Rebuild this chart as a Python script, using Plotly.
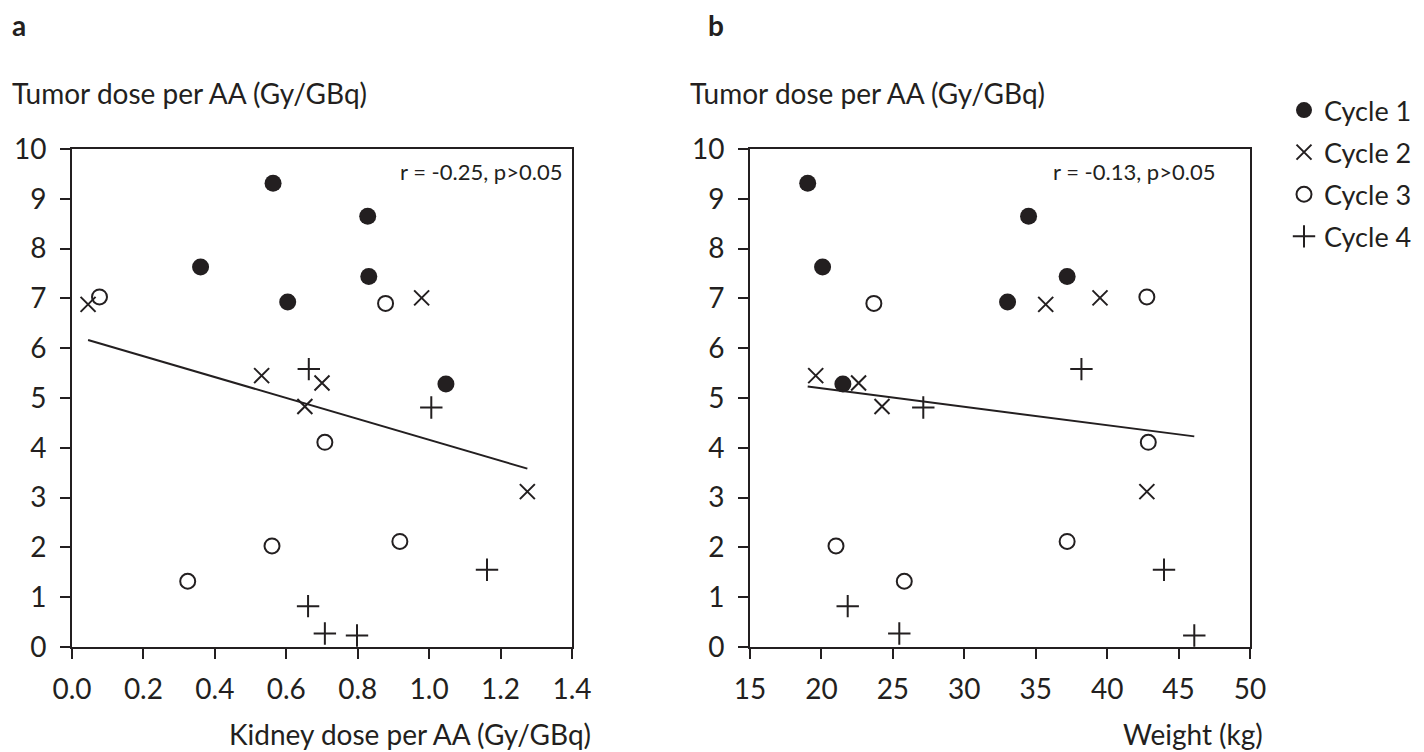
import plotly.graph_objects as go

# ---- data ----
# Cycle 1
tumor_c1 = [9.31, 8.65, 7.63, 7.44, 6.93, 5.28]
kidney_c1 = [0.563, 0.828, 0.360, 0.831, 0.604, 1.047]
weight_c1 = [19.04, 34.5, 20.08, 37.2, 33.03, 21.5]
# Cycle 2
tumor_c2 = [6.88, 7.01, 5.45, 5.30, 4.83, 3.12]
kidney_c2 = [0.045, 0.979, 0.531, 0.700, 0.652, 1.275]
weight_c2 = [35.7, 39.5, 19.6, 22.6, 24.24, 42.78]
# Cycle 3
tumor_c3 = [7.03, 6.90, 4.11, 2.03, 2.12, 1.32]
kidney_c3 = [0.077, 0.878, 0.708, 0.560, 0.918, 0.324]
weight_c3 = [42.78, 23.67, 42.88, 21.02, 37.2, 25.8]
# Cycle 4
tumor_c4 = [5.58, 4.81, 1.55, 0.82, 0.27, 0.23]
kidney_c4 = [0.663, 1.006, 1.162, 0.661, 0.708, 0.798]
weight_c4 = [38.2, 27.13, 43.98, 21.84, 25.45, 46.1]

cycle_names = ["Cycle 1", "Cycle 2", "Cycle 3", "Cycle 4"]

# regression lines (intercept, slope)
fit_a = (6.26, -2.10)
fit_b = (5.935, -0.037)
stat_a = "r = -0.25, p>0.05"
stat_b = "r = -0.13, p>0.05"

x_ticks_a = [0.0, 0.2, 0.4, 0.6, 0.8, 1.0, 1.2, 1.4]
x_ticks_b = [15, 20, 25, 30, 35, 40, 45, 50]
y_ticks = list(range(0, 11))

# ---- style ----
FONT = "Lato"
INK = "#231f20"
W, H = 1424, 752
FS = 28

symbols = [
    dict(symbol="circle", size=17, color=INK, line=dict(width=0)),
    dict(symbol="x-thin-open", size=15, color=INK, line=dict(width=2, color=INK)),
    dict(symbol="circle-open", size=15, color=INK, line=dict(width=2, color=INK)),
    dict(symbol="cross-thin-open", size=16, color=INK, line=dict(width=2, color=INK)),
]

fig = go.Figure()

xs_a = [kidney_c1, kidney_c2, kidney_c3, kidney_c4]
xs_b = [weight_c1, weight_c2, weight_c3, weight_c4]
ys = [tumor_c1, tumor_c2, tumor_c3, tumor_c4]

for i, name in enumerate(cycle_names):
    fig.add_trace(go.Scatter(x=xs_a[i], y=ys[i], mode="markers", name=name,
                             marker=symbols[i], legendgroup=name, showlegend=True,
                             xaxis="x", yaxis="y"))
    fig.add_trace(go.Scatter(x=xs_b[i], y=ys[i], mode="markers", name=name,
                             marker=symbols[i], legendgroup=name, showlegend=False,
                             xaxis="x2", yaxis="y2"))

all_a = kidney_c1 + kidney_c2 + kidney_c3 + kidney_c4
all_b = weight_c1 + weight_c2 + weight_c3 + weight_c4
xa = [min(all_a), max(all_a)]
xb = [min(all_b), max(all_b)]
fig.add_trace(go.Scatter(x=xa, y=[fit_a[0] + fit_a[1] * v for v in xa], mode="lines",
                         line=dict(color=INK, width=2), showlegend=False,
                         xaxis="x", yaxis="y"))
fig.add_trace(go.Scatter(x=xb, y=[fit_b[0] + fit_b[1] * v for v in xb], mode="lines",
                         line=dict(color=INK, width=2), showlegend=False,
                         xaxis="x2", yaxis="y2"))

def px_x(p):
    return p / W

def px_y(p):
    return 1 - p / H

dom_a = [px_x(64), px_x(564)]
dom_b = [px_x(742), px_x(1242)]
dom_y = [px_y(639), px_y(141)]

axis_common = dict(showline=True, linecolor=INK, linewidth=2, mirror=True,
                   ticks="outside", ticklen=10, tickwidth=2, tickcolor=INK,
                   showgrid=False, zeroline=False, automargin=False,
                   tickfont=dict(family=FONT, size=FS, color=INK))

fig.update_layout(
    template="none",
    width=W, height=H,
    margin=dict(l=0, r=0, t=0, b=0, pad=0),
    paper_bgcolor="white", plot_bgcolor="white",
    font=dict(family=FONT, color=INK),
    xaxis=dict(domain=dom_a, range=[0, 1.4], tickvals=x_ticks_a,
               ticktext=[f"{v:.1f}" for v in x_ticks_a], anchor="y",
               ticklabelstandoff=6, **axis_common),
    yaxis=dict(domain=dom_y, range=[0, 10], tickvals=y_ticks, anchor="x",
               ticklabelstandoff=8, **axis_common),
    xaxis2=dict(domain=dom_b, range=[15, 50], tickvals=x_ticks_b, anchor="y2",
                ticklabelstandoff=6, **axis_common),
    yaxis2=dict(domain=dom_y, range=[0, 10], tickvals=y_ticks, anchor="x2",
                ticklabelstandoff=8, **axis_common),
    legend=dict(x=px_x(1276), y=px_y(78), xanchor="left", yanchor="top",
                font=dict(family=FONT, size=27, color=INK),
                tracegroupgap=4, itemsizing="trace", itemwidth=30,
                bgcolor="rgba(0,0,0,0)"),
    showlegend=True,
)

ann = []
ann.append(dict(text="<b>a</b>", x=px_x(2), y=px_y(17), xref="paper", yref="paper",
                xanchor="left", yanchor="middle", showarrow=False,
                font=dict(family=FONT, size=FS, color=INK)))
ann.append(dict(text="<b>b</b>", x=px_x(698), y=px_y(17), xref="paper", yref="paper",
                xanchor="left", yanchor="middle", showarrow=False,
                font=dict(family=FONT, size=FS, color=INK)))
for x0 in (2, 680):
    ann.append(dict(text="Tumor dose per AA (Gy/GBq)", x=px_x(x0), y=px_y(85),
                    xref="paper", yref="paper", xanchor="left", yanchor="middle",
                    showarrow=False, font=dict(family=FONT, size=FS, color=INK)))
ann.append(dict(text="Kidney dose per AA (Gy/GBq)", x=px_x(585), y=px_y(726),
                xref="paper", yref="paper", xanchor="right", yanchor="middle",
                showarrow=False, font=dict(family=FONT, size=FS, color=INK)))
ann.append(dict(text="Weight (kg)", x=px_x(1257), y=px_y(726),
                xref="paper", yref="paper", xanchor="right", yanchor="middle",
                showarrow=False, font=dict(family=FONT, size=FS, color=INK)))
ann.append(dict(text=stat_a, x=1.378, y=9.54, xref="x", yref="y",
                xanchor="right", yanchor="middle", showarrow=False,
                font=dict(family=FONT, size=22, color=INK)))
ann.append(dict(text=stat_b, x=47.69, y=9.54, xref="x2", yref="y2",
                xanchor="right", yanchor="middle", showarrow=False,
                font=dict(family=FONT, size=22, color=INK)))
fig.update_layout(annotations=ann)

fig.write_html("out.html")
